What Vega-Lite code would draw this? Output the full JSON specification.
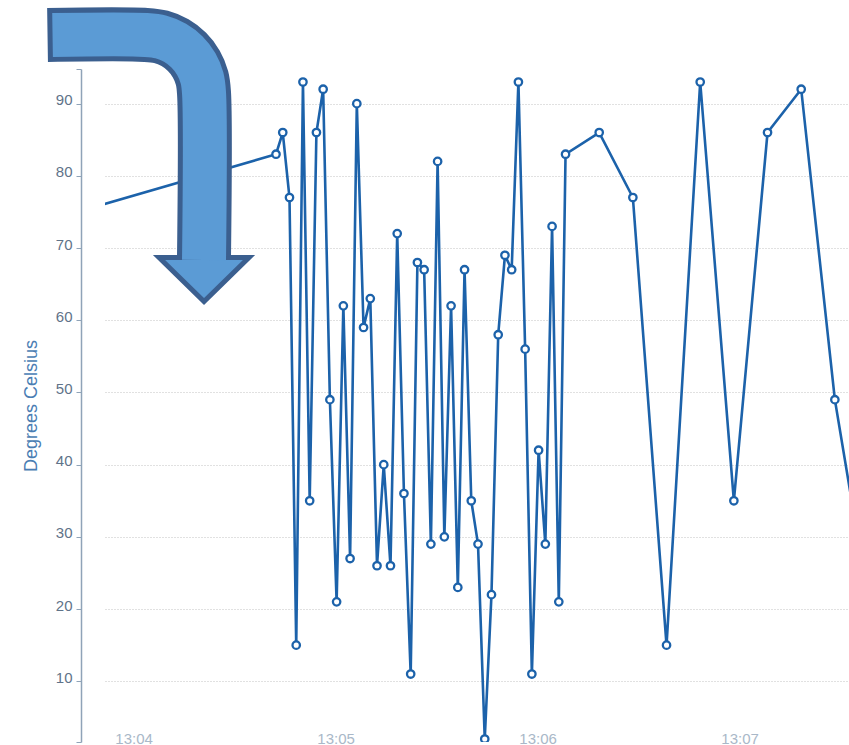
{
  "$schema": "https://vega.github.io/schema/vega-lite/v6.json",
  "autosize": "none",
  "width": 744,
  "height": 673,
  "padding": {"left": 105, "top": 69, "right": 0, "bottom": 3},
  "background": "white",
  "config": {"view": {"stroke": null}, "font": "Liberation Sans"},
  "datasets": {
    "temps": [
      {"time": "2024-01-01T13:03:32", "temp": 73.5},
      {"time": "2024-01-01T13:04:42", "temp": 83},
      {"time": "2024-01-01T13:04:44", "temp": 86},
      {"time": "2024-01-01T13:04:46", "temp": 77},
      {"time": "2024-01-01T13:04:48", "temp": 15},
      {"time": "2024-01-01T13:04:50", "temp": 93},
      {"time": "2024-01-01T13:04:52", "temp": 35},
      {"time": "2024-01-01T13:04:54", "temp": 86},
      {"time": "2024-01-01T13:04:56", "temp": 92},
      {"time": "2024-01-01T13:04:58", "temp": 49},
      {"time": "2024-01-01T13:05:00", "temp": 21},
      {"time": "2024-01-01T13:05:02", "temp": 62},
      {"time": "2024-01-01T13:05:04", "temp": 27},
      {"time": "2024-01-01T13:05:06", "temp": 90},
      {"time": "2024-01-01T13:05:08", "temp": 59},
      {"time": "2024-01-01T13:05:10", "temp": 63},
      {"time": "2024-01-01T13:05:12", "temp": 26},
      {"time": "2024-01-01T13:05:14", "temp": 40},
      {"time": "2024-01-01T13:05:16", "temp": 26},
      {"time": "2024-01-01T13:05:18", "temp": 72},
      {"time": "2024-01-01T13:05:20", "temp": 36},
      {"time": "2024-01-01T13:05:22", "temp": 11},
      {"time": "2024-01-01T13:05:24", "temp": 68},
      {"time": "2024-01-01T13:05:26", "temp": 67},
      {"time": "2024-01-01T13:05:28", "temp": 29},
      {"time": "2024-01-01T13:05:30", "temp": 82},
      {"time": "2024-01-01T13:05:32", "temp": 30},
      {"time": "2024-01-01T13:05:34", "temp": 62},
      {"time": "2024-01-01T13:05:36", "temp": 23},
      {"time": "2024-01-01T13:05:38", "temp": 67},
      {"time": "2024-01-01T13:05:40", "temp": 35},
      {"time": "2024-01-01T13:05:42", "temp": 29},
      {"time": "2024-01-01T13:05:44", "temp": 2},
      {"time": "2024-01-01T13:05:46", "temp": 22},
      {"time": "2024-01-01T13:05:48", "temp": 58},
      {"time": "2024-01-01T13:05:50", "temp": 69},
      {"time": "2024-01-01T13:05:52", "temp": 67},
      {"time": "2024-01-01T13:05:54", "temp": 93},
      {"time": "2024-01-01T13:05:56", "temp": 56},
      {"time": "2024-01-01T13:05:58", "temp": 11},
      {"time": "2024-01-01T13:06:00", "temp": 42},
      {"time": "2024-01-01T13:06:02", "temp": 29},
      {"time": "2024-01-01T13:06:04", "temp": 73},
      {"time": "2024-01-01T13:06:06", "temp": 21},
      {"time": "2024-01-01T13:06:08", "temp": 83},
      {"time": "2024-01-01T13:06:18", "temp": 86},
      {"time": "2024-01-01T13:06:28", "temp": 77},
      {"time": "2024-01-01T13:06:38", "temp": 15},
      {"time": "2024-01-01T13:06:48", "temp": 93},
      {"time": "2024-01-01T13:06:58", "temp": 35},
      {"time": "2024-01-01T13:07:08", "temp": 86},
      {"time": "2024-01-01T13:07:18", "temp": 92},
      {"time": "2024-01-01T13:07:28", "temp": 49},
      {"time": "2024-01-01T13:07:38", "temp": 21}
    ],
    "arrowOutline": [
      {"step": 0, "time": "2024-01-01T13:03:34.130", "temp": 99.515},
      {"step": 1, "time": "2024-01-01T13:04:03.386", "temp": 99.515},
      {"step": 2, "time": "2024-01-01T13:04:07.844", "temp": 99.241},
      {"step": 3, "time": "2024-01-01T13:04:12.000", "temp": 98.439},
      {"step": 4, "time": "2024-01-01T13:04:15.566", "temp": 97.162},
      {"step": 5, "time": "2024-01-01T13:04:18.304", "temp": 95.499},
      {"step": 6, "time": "2024-01-01T13:04:20.024", "temp": 93.561},
      {"step": 7, "time": "2024-01-01T13:04:20.612", "temp": 91.482},
      {"step": 8, "time": "2024-01-01T13:04:20.612", "temp": 68.906}
    ],
    "arrowFill": [
      {"step": 0, "time": "2024-01-01T13:03:35.620", "temp": 99.515},
      {"step": 1, "time": "2024-01-01T13:04:03.386", "temp": 99.515},
      {"step": 2, "time": "2024-01-01T13:04:07.844", "temp": 99.241},
      {"step": 3, "time": "2024-01-01T13:04:12.000", "temp": 98.439},
      {"step": 4, "time": "2024-01-01T13:04:15.566", "temp": 97.162},
      {"step": 5, "time": "2024-01-01T13:04:18.304", "temp": 95.499},
      {"step": 6, "time": "2024-01-01T13:04:20.024", "temp": 93.561},
      {"step": 7, "time": "2024-01-01T13:04:20.612", "temp": 91.482},
      {"step": 8, "time": "2024-01-01T13:04:20.612", "temp": 68.352}
    ],
    "arrowHead": [
      {"time": "2024-01-01T13:04:20.612", "temp": 65.65}
    ]
  },
  "encoding": {
    "x": {
      "field": "time",
      "type": "temporal",
      "scale": {
        "domain": [
          {"year": 2024, "month": 1, "date": 1, "hours": 13, "minutes": 3, "seconds": 51, "milliseconds": 200},
          {"year": 2024, "month": 1, "date": 1, "hours": 13, "minutes": 7, "seconds": 32, "milliseconds": 200}
        ],
        "nice": false
      },
      "axis": {
        "title": null,
        "values": [
          {"year": 2024, "month": 1, "date": 1, "hours": 13, "minutes": 4},
          {"year": 2024, "month": 1, "date": 1, "hours": 13, "minutes": 5},
          {"year": 2024, "month": 1, "date": 1, "hours": 13, "minutes": 6},
          {"year": 2024, "month": 1, "date": 1, "hours": 13, "minutes": 7}
        ],
        "format": "%H:%M",
        "domain": false,
        "ticks": false,
        "grid": false,
        "offset": -4,
        "labelPadding": 0,
        "labelOffset": -1,
        "labelBaseline": "middle",
        "labelFontSize": 15,
        "labelColor": "#a9b8c8",
        "labelFont": "Liberation Sans"
      }
    },
    "y": {
      "field": "temp",
      "type": "quantitative",
      "scale": {"domain": [1.59, 94.8], "nice": false, "zero": false},
      "axis": {
        "title": "Degrees Celsius",
        "titleFontSize": 18,
        "titleFontWeight": "normal",
        "titleColor": "#4a7db3",
        "titleFont": "Liberation Sans",
        "titlePadding": 15,
        "values": [1.59, 10, 20, 30, 40, 50, 60, 70, 80, 90, 94.8],
        "labelExpr": "datum.value < 5 || datum.value > 92 ? '' : datum.label",
        "offset": 24,
        "domainColor": "#8fa3b8",
        "domainWidth": 1.5,
        "tickColor": "#8fa3b8",
        "tickSize": 5,
        "labelOffset": -4,
        "labelPadding": 4,
        "labelFontSize": 15,
        "labelColor": "#5f7389",
        "labelFont": "Liberation Sans",
        "grid": true,
        "gridColor": "#c4c4c4",
        "gridDash": [1, 2],
        "gridWidth": 1.2,
        "gridOpacity": {"condition": {"test": "datum.value < 5 || datum.value > 92", "value": 0}, "value": 1}
      }
    }
  },
  "layer": [
    {
      "data": {"name": "temps"},
      "mark": {"type": "line", "color": "#1c62aa", "strokeWidth": 2.6, "clip": true}
    },
    {
      "data": {"name": "temps"},
      "mark": {"type": "point", "shape": "circle", "filled": true, "fill": "white", "stroke": "#1c62aa", "strokeWidth": 2.3, "size": 55, "opacity": 1, "clip": true}
    },
    {
      "data": {"name": "arrowHead"},
      "mark": {"type": "point", "shape": "M-1,-0.49L1,-0.49L0,0.49Z", "size": 8100, "filled": true, "fill": "#5b9bd5", "stroke": "#3b5f8f", "strokeWidth": 5, "strokeJoin": "miter", "opacity": 1}
    },
    {
      "data": {"name": "arrowOutline"},
      "mark": {"type": "line", "color": "#3b5f8f", "strokeWidth": 54, "strokeCap": "butt", "strokeJoin": "round", "interpolate": "catmull-rom"},
      "encoding": {"order": {"field": "step", "type": "quantitative"}}
    },
    {
      "data": {"name": "arrowFill"},
      "mark": {"type": "line", "color": "#5b9bd5", "strokeWidth": 44, "strokeCap": "butt", "strokeJoin": "round", "interpolate": "catmull-rom"},
      "encoding": {"order": {"field": "step", "type": "quantitative"}}
    }
  ]
}
